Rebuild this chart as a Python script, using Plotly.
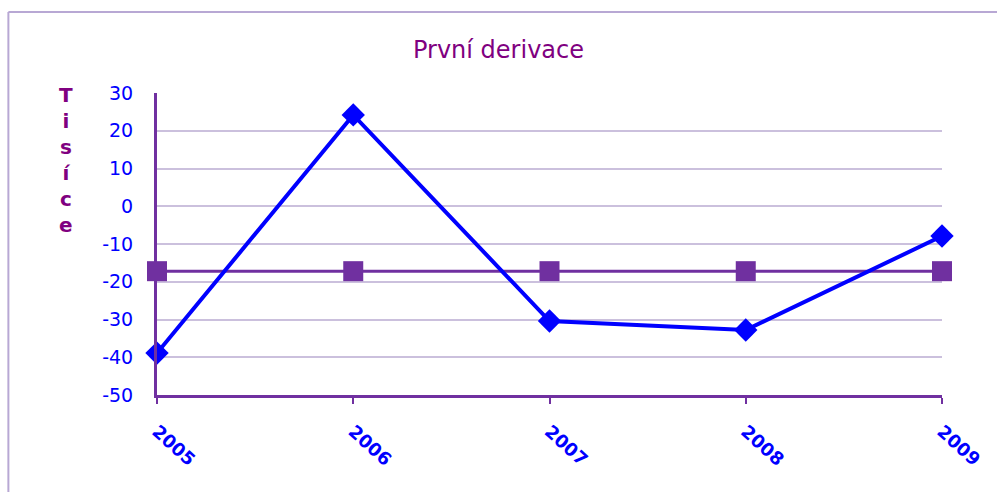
import plotly.graph_objects as go

years = [2005, 2006, 2007, 2008, 2009]
derivace = [-38.9, 24.2, -30.4, -32.8, -7.9]
prumer = [-17.2, -17.2, -17.2, -17.2, -17.2]
y_ticks = [30, 20, 10, 0, -10, -20, -30, -40, -50]
y_tick_text = ["30", "20", "10", "0", "-10", "-20", "-30", "-40", "-50"]

PURPLE = "#7030A0"
BLUE = "#0000FF"
GRID = "#CBC0DD"
TEXT_PURPLE = "#800080"

W, H = 997, 492
L, R, T, B = 157, 53, 93, 97
pw, ph = W - L - R, H - T - B

fig = go.Figure()
fig.add_trace(go.Scatter(
    x=years, y=prumer, mode="lines+markers",
    line=dict(color=PURPLE, width=3),
    marker=dict(symbol="square", size=20, color=PURPLE),
    cliponaxis=False, showlegend=False))
fig.add_trace(go.Scatter(
    x=years, y=derivace, mode="lines+markers",
    line=dict(color=BLUE, width=4),
    marker=dict(symbol="diamond", size=18, color=BLUE),
    cliponaxis=False, showlegend=False))

font_family = "DejaVu Sans, Verdana, sans-serif"

fig.update_layout(
    width=W, height=H,
    margin=dict(l=L, r=R, t=T, b=B, pad=0),
    paper_bgcolor="white", plot_bgcolor="white",
    title=dict(text="První derivace", x=0.5, xanchor="center",
               y=1 - 50 / H, yanchor="middle",
               font=dict(family=font_family, size=24, color=TEXT_PURPLE)),
    xaxis=dict(
        range=[2005, 2009], tickvals=years, ticktext=[str(y) for y in years],
        showgrid=False, zeroline=False,
        showline=True, linecolor=PURPLE, linewidth=3,
        ticks="outside", ticklen=6, tickcolor=PURPLE, tickwidth=2,
        tickangle=42, ticklabelstandoff=10,
        tickfont=dict(family=font_family, size=18, color=BLUE, weight="bold"),
    ),
    yaxis=dict(
        range=[-50, 30], tickvals=y_ticks, ticktext=y_tick_text,
        showgrid=True, gridcolor=GRID, gridwidth=2,
        zeroline=False,
        showline=True, linecolor=PURPLE, linewidth=3,
        ticks="", ticklabelstandoff=17,
        tickfont=dict(family=font_family, size=19, color=BLUE),
    ),
)

fig.add_annotation(
    text="T<br>i<br>s<br>í<br>c<br>e", xref="paper", yref="paper",
    x=(66 - L) / pw, y=(395 - 81) / ph, xanchor="center", yanchor="top",
    showarrow=False,
    font=dict(family=font_family, size=20, color=TEXT_PURPLE, weight="bold"))

# chart frame (left and top edges visible)
fig.add_shape(type="line", xref="paper", yref="paper",
              x0=(8 - L) / pw, x1=(8 - L) / pw, y0=(395 - 12) / ph, y1=(395 - 520) / ph,
              line=dict(color="#B8A8D4", width=2))
fig.add_shape(type="line", xref="paper", yref="paper",
              x0=(8 - L) / pw, x1=(1010 - L) / pw, y0=(395 - 12) / ph, y1=(395 - 12) / ph,
              line=dict(color="#B8A8D4", width=2))

fig.write_html("out.html", config={"displayModeBar": False},
               post_script="document.body.style.margin='0';")
